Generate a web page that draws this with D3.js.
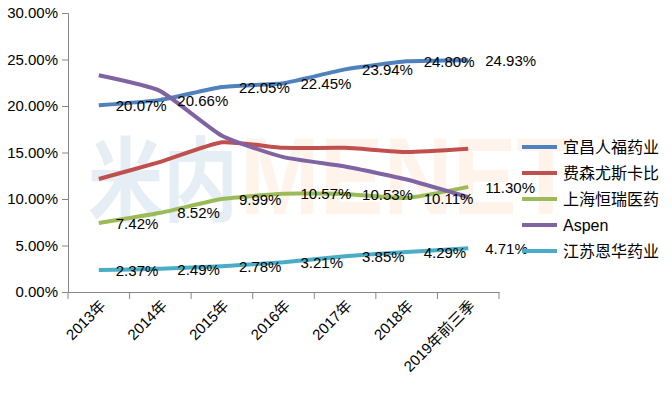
<!DOCTYPE html>
<html>
<head>
<meta charset="utf-8">
<script src="https://cdn.jsdelivr.net/npm/d3@7"></script>
<style>
  body { margin: 0; background: #fff; }
  text { font-family: "Liberation Sans", "Noto Sans CJK SC", sans-serif; }
</style>
</head>
<body>
<div id="chart"></div>
<script>
// categories and series (percent)
const years = ["2013年", "2014年", "2015年", "2016年", "2017年", "2018年", "2019年前三季"]
const names = ["宜昌人福药业", "费森尤斯卡比", "上海恒瑞医药", "Aspen", "江苏恩华药业"]
const renfu = [20.07, 20.66, 22.05, 22.45, 23.94, 24.80, 24.93]
const fresenius = [12.15, 14.0, 16.1, 15.5, 15.5, 15.05, 15.4]
const hengrui = [7.42, 8.52, 9.99, 10.57, 10.53, 10.11, 11.30]
const aspen = [23.3, 21.6, 16.8, 14.5, 13.5, 12.1, 10.2]
const enhua = [2.37, 2.49, 2.78, 3.21, 3.85, 4.29, 4.71]
const yTicks = [0, 5, 10, 15, 20, 25, 30]

const colors = ["#4f81bd", "#c0504d", "#9bbb59", "#8064a2", "#4bacc6"]
const series = [renfu, fresenius, hengrui, aspen, enhua]
const labelled = [true, false, true, false, true]

const W = 672, H = 396
const plot = {left: 68, right: 499, top: 13, bottom: 292}

const svg = d3.select("#chart").append("svg")
  .attr("width", W)
  .attr("height", H)

// watermark
const wm = svg.append("g")
wm.append("text")
  .attr("x", 88).attr("y", 214)
  .attr("textLength", 150).attr("lengthAdjust", "spacingAndGlyphs")
  .style("font-family", "Noto Sans CJK SC").style("font-weight", "bold")
  .style("font-size", "92px").attr("fill", "#e5eef4")
  .text("米内")
wm.append("text")
  .attr("x", 240).attr("y", 214)
  .attr("textLength", 335).attr("lengthAdjust", "spacingAndGlyphs")
  .style("font-weight", "bold").style("font-size", "110px")
  .attr("fill", "#fef4eb")
  .text("MENET")

const x = d3.scaleBand()
  .domain(years)
  .range([plot.left, plot.right])

const y = d3.scaleLinear()
  .domain([0, 30])
  .range([plot.bottom, plot.top])

// y axis
const yAxis = d3.axisLeft(y)
  .tickValues(yTicks)
  .tickSize(6)
  .tickPadding(4)
  .tickFormat(d => d.toFixed(2) + "%")

const gy = svg.append("g")
  .attr("transform", `translate(${plot.left},0)`)
  .call(yAxis)
gy.select(".domain").attr("stroke", "#868686")
gy.selectAll(".tick line").attr("stroke", "#868686")
gy.selectAll(".tick text")
  .style("font-size", "15px").attr("fill", "#000")

// x axis
const xAxis = d3.axisBottom(x)
  .tickSize(0)
  .tickSizeOuter(0)

const gx = svg.append("g")
  .attr("transform", `translate(0,${plot.bottom})`)
  .call(xAxis)
gx.select(".domain").attr("stroke", "#868686")
gx.selectAll(".tick text").remove()

// tick marks at band boundaries
const bounds = years.map(d => x(d)).concat([plot.right])
gx.selectAll(".bound")
  .data(bounds)
  .join("line")
    .attr("class", "bound")
    .attr("x1", d => d).attr("x2", d => d)
    .attr("y1", 0).attr("y2", 7)
    .attr("stroke", "#868686")

gx.selectAll(".xlab")
  .data(years)
  .join("text")
    .attr("class", "xlab")
    .attr("transform", d => `translate(${x(d) + x.bandwidth() / 2 + 4},${11}) rotate(-45)`)
    .attr("text-anchor", "end")
    .attr("dy", "0.35em")
    .style("font-size", "15px")
    .attr("fill", "#000")
    .text(d => d)

// lines
const cx = i => x(years[i]) + x.bandwidth() / 2
const line = d3.line()
  .x((d, i) => cx(i))
  .y(d => y(d))
  .curve(d3.curveCardinal.tension(0.5))

svg.append("g")
  .selectAll("path")
  .data(series)
  .join("path")
    .attr("d", d => line(d))
    .attr("fill", "none")
    .attr("stroke", (d, i) => colors[i])
    .attr("stroke-width", 4)
    .attr("stroke-linejoin", "round")

// data labels
series.forEach((s, k) => {
  if (!labelled[k]) return
  svg.append("g")
    .selectAll("text")
    .data(s)
    .join("text")
      .attr("x", (d, i) => cx(i) + 17)
      .attr("y", d => y(d))
      .attr("dy", "0.38em")
      .style("font-size", "15px")
      .attr("fill", "#000")
      .text(d => d.toFixed(2) + "%")
})

// legend
const legend = svg.append("g")
  .selectAll("g")
  .data(names)
  .join("g")
    .attr("transform", (d, i) => `translate(522,${147 + i * 26})`)

legend.append("line")
  .attr("x1", 0).attr("x2", 35)
  .attr("stroke", (d, i) => colors[i])
  .attr("stroke-width", 4)

legend.append("text")
  .attr("x", 41)
  .attr("dy", "0.35em")
  .style("font-size", "16px")
  .attr("fill", "#000")
  .text(d => d)
</script>
</body>
</html>
